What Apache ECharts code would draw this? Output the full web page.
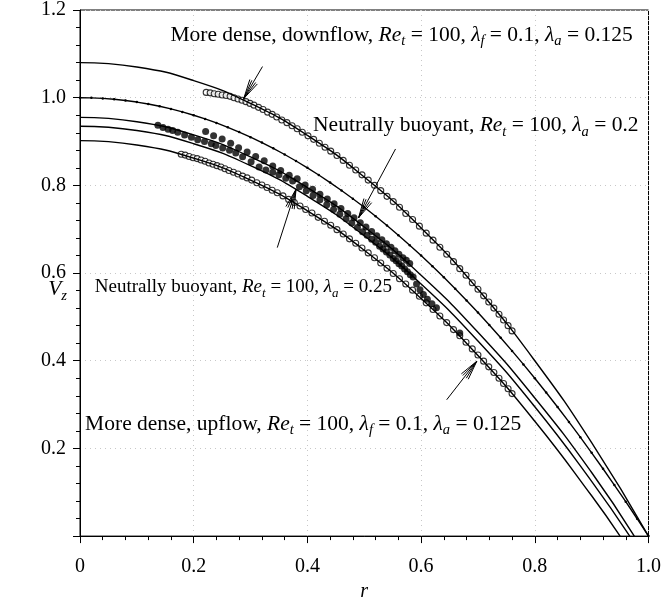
<!DOCTYPE html>
<html>
<head>
<meta charset="utf-8">
<title>Vz profiles</title>
<script src="https://cdn.jsdelivr.net/npm/echarts@6/dist/echarts.min.js"></script>
</head>
<body style="margin:0">
<div id="main" style="width:664px;height:607px;"></div>
<script type="text/javascript">
// radial positions of the solid curves
var rCurve = [0, 0.1, 0.2, 0.3, 0.4, 0.5, 0.6, 0.7, 0.8, 0.9];
var vDownLine = [1.08, 1.070, 1.039, 0.987, 0.914, 0.819, 0.703, 0.563, 0.400, 0.213];
var vLine3 = [0.955, 0.945, 0.915, 0.865, 0.795, 0.705, 0.595, 0.465, 0.315, 0.145];
var vLine4 = [0.935, 0.925, 0.895, 0.845, 0.775, 0.685, 0.575, 0.445, 0.295, 0.125];
var vLine5 = [0.902, 0.892, 0.862, 0.812, 0.742, 0.652, 0.542, 0.412, 0.262, 0.092];
var rEnd = [1.0, 0.975, 0.967, 0.950]; // where curves reach zero

// neutral line with small dots every 0.02
var vNeutral = [1, 0.9996, 0.9984, 0.9964, 0.9936, 0.99, 0.9856, 0.9804, 0.9744, 0.9676, 0.96,
  0.9516, 0.9424, 0.9324, 0.9216, 0.91, 0.8976, 0.8844, 0.8704, 0.8556, 0.84,
  0.8236, 0.8064, 0.7884, 0.7696, 0.75, 0.7296, 0.7084, 0.6864, 0.6636, 0.64,
  0.6156, 0.5904, 0.5644, 0.5376, 0.51, 0.4816, 0.4524, 0.4224, 0.3916, 0.36,
  0.3276, 0.2944, 0.2604, 0.2256, 0.19, 0.1536, 0.1164, 0.0784, 0.0396, 0];

// open circles, more dense downflow
var rDown = [0.222, 0.229, 0.236, 0.243, 0.250, 0.257, 0.264, 0.271, 0.278, 0.285, 0.292, 0.299, 0.306, 0.314,
  0.322, 0.330, 0.338, 0.346, 0.355, 0.364, 0.373, 0.382, 0.391, 0.401, 0.411, 0.421, 0.431, 0.441, 0.452,
  0.463, 0.474, 0.485, 0.496, 0.507, 0.518, 0.529, 0.540, 0.551, 0.562, 0.573, 0.585, 0.597, 0.609, 0.621,
  0.633, 0.645, 0.657, 0.668, 0.679, 0.690, 0.700, 0.710, 0.719, 0.728, 0.737, 0.745, 0.753, 0.760];
var vDown = [1.012, 1.011, 1.009, 1.008, 1.006, 1.005, 1.003, 1.000, 0.997, 0.994, 0.991, 0.987, 0.983, 0.978,
  0.973, 0.967, 0.962, 0.956, 0.949, 0.943, 0.936, 0.929, 0.921, 0.913, 0.905, 0.896, 0.887, 0.878, 0.868,
  0.857, 0.846, 0.835, 0.824, 0.812, 0.800, 0.788, 0.775, 0.763, 0.750, 0.736, 0.722, 0.707, 0.691, 0.675,
  0.659, 0.643, 0.626, 0.610, 0.595, 0.578, 0.563, 0.548, 0.534, 0.520, 0.506, 0.493, 0.480, 0.468];

// open circles, more dense upflow
var rUp = [0.178, 0.185, 0.192, 0.199, 0.206, 0.213, 0.220, 0.227, 0.234, 0.241, 0.248, 0.255, 0.262, 0.270,
  0.278, 0.286, 0.294, 0.302, 0.311, 0.320, 0.329, 0.338, 0.347, 0.357, 0.367, 0.377, 0.387, 0.397, 0.408,
  0.419, 0.430, 0.441, 0.452, 0.463, 0.474, 0.485, 0.496, 0.507, 0.518, 0.529, 0.540, 0.551, 0.562, 0.573,
  0.585, 0.597, 0.609, 0.621, 0.633, 0.645, 0.657, 0.668, 0.679, 0.690, 0.700, 0.710, 0.719, 0.728, 0.737,
  0.745, 0.753, 0.760];
var vUp = [0.871, 0.869, 0.866, 0.863, 0.861, 0.858, 0.855, 0.851, 0.848, 0.845, 0.842, 0.838, 0.834, 0.830,
  0.826, 0.821, 0.817, 0.812, 0.806, 0.801, 0.795, 0.789, 0.783, 0.776, 0.768, 0.761, 0.753, 0.745, 0.737,
  0.727, 0.718, 0.709, 0.699, 0.689, 0.678, 0.668, 0.657, 0.646, 0.635, 0.623, 0.611, 0.599, 0.587, 0.575,
  0.561, 0.547, 0.532, 0.517, 0.502, 0.487, 0.471, 0.457, 0.442, 0.427, 0.413, 0.399, 0.386, 0.373, 0.360,
  0.348, 0.336, 0.325];

// filled dots, neutrally buoyant (dense row)
var rSolidA = [0.137, 0.146, 0.155, 0.163, 0.172, 0.184, 0.196, 0.207, 0.219, 0.231, 0.239, 0.251, 0.263, 0.274,
  0.286, 0.301, 0.315, 0.327, 0.339, 0.350, 0.362, 0.374, 0.386, 0.398, 0.410, 0.422, 0.434, 0.446, 0.457,
  0.468, 0.478, 0.488, 0.497, 0.505, 0.513, 0.520, 0.527, 0.533, 0.539, 0.545, 0.551, 0.556, 0.561, 0.566,
  0.571, 0.576, 0.581, 0.586];
var vSolidA = [0.937, 0.932, 0.928, 0.925, 0.921, 0.915, 0.910, 0.904, 0.900, 0.895, 0.891, 0.885, 0.880, 0.874,
  0.865, 0.854, 0.842, 0.835, 0.830, 0.824, 0.816, 0.810, 0.797, 0.788, 0.777, 0.767, 0.756, 0.745, 0.734,
  0.724, 0.714, 0.704, 0.694, 0.686, 0.677, 0.670, 0.661, 0.655, 0.648, 0.641, 0.633, 0.628, 0.621, 0.616,
  0.609, 0.603, 0.596, 0.591];

// filled dots, neutrally buoyant (sparse row above)
var rSolidB = [0.221, 0.235, 0.250, 0.265, 0.279, 0.294, 0.309, 0.324, 0.339, 0.353, 0.368, 0.382, 0.396, 0.409,
  0.422, 0.435, 0.447, 0.459, 0.471, 0.482, 0.493, 0.503, 0.513, 0.522, 0.531, 0.539, 0.547, 0.554, 0.561,
  0.568, 0.574, 0.580, 0.592, 0.598, 0.604, 0.611, 0.619, 0.627, 0.668];
var vSolidB = [0.923, 0.913, 0.906, 0.896, 0.886, 0.876, 0.866, 0.856, 0.844, 0.834, 0.823, 0.815, 0.801, 0.791,
  0.780, 0.769, 0.758, 0.747, 0.736, 0.726, 0.715, 0.705, 0.695, 0.685, 0.676, 0.667, 0.659, 0.651, 0.643,
  0.635, 0.629, 0.622, 0.575, 0.562, 0.551, 0.540, 0.530, 0.521, 0.463];

// annotations (data coordinates)
var arrowTail = [[0.321, 1.071], [0.555, 0.883], [0.347, 0.658], [0.645, 0.311]];
var arrowTip = [[0.288, 0.998], [0.490, 0.726], [0.380, 0.791], [0.698, 0.399]];
var labelPos = [[0.159, 1.143], [0.410, 0.937], [0.026, 0.568], [0.009, 0.256]];
var labelText = [
  '{n|More dense, downflow, }{i|Re}{s|t}{n| = 100, }{i|λ}{s|f}{n| = 0.1, }{i|λ}{s|a}{n| = 0.125}',
  '{n|Neutrally buoyant, }{i|Re}{s|t}{n| = 100, }{i|λ}{s|a}{n| = 0.2}',
  '{n2|Neutrally buoyant, }{i2|Re}{s2|t}{n2| = 100, }{i2|λ}{s2|a}{n2| = 0.25}',
  '{n|More dense, upflow, }{i|Re}{s|t}{n| = 100, }{i|λ}{s|f}{n| = 0.1, }{i|λ}{s|a}{n| = 0.125}'
];
var vzPos = [0, 0.563];

var serif = 'Liberation Serif';

function pairs(xs, ys) {
  var out = [];
  for (var i = 0; i < xs.length; i++) out.push([xs[i], ys[i]]);
  return out;
}
function curve(vs, rz) {
  var d = pairs(rCurve, vs);
  d.push([rz, 0]);
  return d;
}
var rNeutral = [];
for (var i = 0; i < vNeutral.length; i++) rNeutral.push(+(i * 0.02).toFixed(2));

var lineStyle = { color: '#000', width: 1.4 };
var openCircle = { color: '#fff', borderColor: '#000', borderWidth: 1.1 };

var myChart = echarts.init(document.getElementById('main'));

var option = {
  animation: false,
  grid: { left: 80, right: 13, top: 10, bottom: 64, show: true, borderColor: '#000', borderWidth: 1 },
  xAxis: {
    type: 'value', min: 0, max: 1, interval: 0.2,
    name: 'r', nameLocation: 'middle', nameGap: 39,
    nameTextStyle: { fontFamily: serif, fontStyle: 'italic', fontSize: 20, color: '#000' },
    axisLine: { lineStyle: { color: '#000', width: 1 } },
    axisTick: { length: 7, lineStyle: { color: '#000' } },
    minorTick: { show: true, splitNumber: 5, length: 4, lineStyle: { color: '#000' } },
    axisLabel: { fontFamily: serif, fontSize: 20, color: '#000', margin: 21,
      formatter: function (v) { return v === 0 ? '0' : v.toFixed(1); } },
    splitLine: { show: true, lineStyle: { color: '#c8c8c8', type: [1, 4], width: 1 } }
  },
  yAxis: {
    type: 'value', min: 0, max: 1.2, interval: 0.2,
    axisLine: { lineStyle: { color: '#000', width: 1 } },
    axisTick: { length: 7, lineStyle: { color: '#000' } },
    minorTick: { show: true, splitNumber: 5, length: 4, lineStyle: { color: '#000' } },
    axisLabel: { fontFamily: serif, fontSize: 20, color: '#000', margin: 14,
      formatter: function (v) { return v === 0 ? '' : v.toFixed(1); } },
    splitLine: { show: true, lineStyle: { color: '#c8c8c8', type: [1, 4], width: 1 } }
  },
  series: [
    { type: 'scatter', data: pairs(rDown, vDown), symbol: 'circle', symbolSize: 6, z: 2, itemStyle: openCircle },
    { type: 'scatter', data: pairs(rUp, vUp), symbol: 'circle', symbolSize: 6, z: 2, itemStyle: openCircle },
    { type: 'scatter', data: pairs(rSolidA, vSolidA), symbol: 'circle', symbolSize: 7, z: 2,
      itemStyle: { color: '#000' } },
    { type: 'scatter', data: pairs(rSolidB, vSolidB), symbol: 'circle', symbolSize: 7, z: 2,
      itemStyle: { color: '#000' } },
    { type: 'line', data: curve(vDownLine, rEnd[0]), smooth: true, showSymbol: false, z: 3, lineStyle: lineStyle },
    { type: 'line', data: pairs(rNeutral, vNeutral), showSymbol: true, symbol: 'circle', symbolSize: 2.5, z: 3,
      itemStyle: { color: '#000' }, lineStyle: lineStyle },
    { type: 'line', data: curve(vLine3, rEnd[1]), smooth: true, showSymbol: false, z: 3, lineStyle: lineStyle },
    { type: 'line', data: curve(vLine4, rEnd[2]), smooth: true, showSymbol: false, z: 3, lineStyle: lineStyle },
    { type: 'line', data: curve(vLine5, rEnd[3]), smooth: true, showSymbol: false, z: 3, lineStyle: lineStyle }
  ]
};
myChart.setOption(option);

// labels and arrows placed through the chart's own coordinate system
var rich = {
  n: { fontFamily: serif, fontSize: 21.5, fill: '#000', lineHeight: 28 },
  i: { fontFamily: serif, fontSize: 21.5, fontStyle: 'italic', fill: '#000', lineHeight: 28 },
  s: { fontFamily: serif, fontSize: 14.5, fontStyle: 'italic', fill: '#000', lineHeight: 14, verticalAlign: 'bottom' },
  n2: { fontFamily: serif, fontSize: 19, fill: '#000', lineHeight: 26 },
  i2: { fontFamily: serif, fontSize: 19, fontStyle: 'italic', fill: '#000', lineHeight: 26 },
  s2: { fontFamily: serif, fontSize: 13, fontStyle: 'italic', fill: '#000', lineHeight: 13, verticalAlign: 'bottom' }
};
var graphics = [];
for (var k = 0; k < labelText.length; k++) {
  var p = myChart.convertToPixel({ gridIndex: 0 }, labelPos[k]);
  graphics.push({ type: 'text', x: p[0], y: p[1], z: 10,
    style: { text: labelText[k], rich: rich, align: 'left', verticalAlign: 'middle' } });
}
var pv = myChart.convertToPixel({ gridIndex: 0 }, vzPos);
graphics.push({ type: 'text', x: pv[0] - 13, y: pv[1], z: 10,
  style: { text: '{i|V}{s|z}', rich: rich, align: 'right', verticalAlign: 'middle' } });
for (var a = 0; a < arrowTail.length; a++) {
  var p0 = myChart.convertToPixel({ gridIndex: 0 }, arrowTail[a]);
  var p1 = myChart.convertToPixel({ gridIndex: 0 }, arrowTip[a]);
  graphics.push({ type: 'line', z: 10, shape: { x1: p0[0], y1: p0[1], x2: p1[0], y2: p1[1] },
    style: { stroke: '#000', lineWidth: 1 } });
  var ang = Math.atan2(p0[1] - p1[1], p0[0] - p1[0]);
  [-0.22, -0.11, 0.11, 0.22].forEach(function (d) {
    graphics.push({ type: 'line', z: 10,
      shape: { x1: p1[0], y1: p1[1], x2: p1[0] + 20 * Math.cos(ang + d), y2: p1[1] + 20 * Math.sin(ang + d) },
      style: { stroke: '#000', lineWidth: 1 } });
  });
}
myChart.setOption({ graphic: graphics });
</script>
</body>
</html>
